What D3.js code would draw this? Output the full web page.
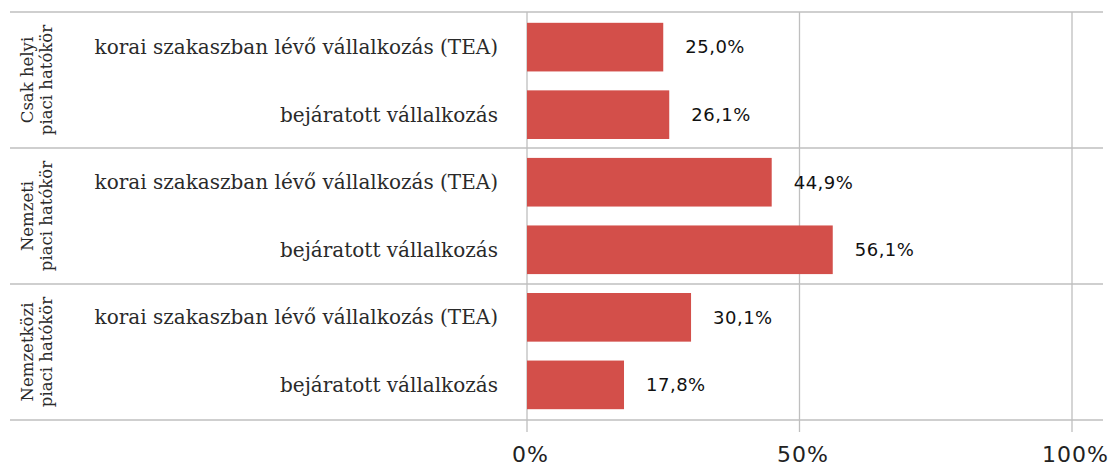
<!DOCTYPE html>
<html lang="hu">
<head>
    <meta charset="UTF-8">
    <title>Piaci hatókör</title>
    <script src="https://d3js.org/d3.v7.min.js"></script>
    <style>
        body { margin: 0; background: #fff; }
        .grid line { stroke: #bfbfbf; stroke-width: 1.3px; }
        .cat { font: 20px "DejaVu Serif", serif; fill: #2a2a2a; }
        .grp { font: 16.5px "DejaVu Serif", serif; fill: #2a2a2a; }
        .val { font: 18px "DejaVu Sans", sans-serif; fill: #111; letter-spacing: 0.5px; }
        .tick text { font: 22px "DejaVu Sans", sans-serif; fill: #222; letter-spacing: 1px; }
    </style>
</head>
<body>
<div id="chart"></div>
<script>
    const groups = [["Csak helyi", "piaci hatókör"], ["Nemzeti", "piaci hatókör"], ["Nemzetközi", "piaci hatókör"]];
    const categories = ["korai szakaszban lévő vállalkozás (TEA)", "bejáratott vállalkozás"];
    const values = [25.0, 26.1, 44.9, 56.1, 30.1, 17.8];
    const ticks = [0, 50, 100];

    const width = 1108, height = 468;
    const rows = values.map((v, i) => ({ id: i, group: Math.floor(i / 2), cat: categories[i % 2], value: v }));

    const x = d3.scaleLinear().domain([0, 100]).range([527, 1072]);
    const y = d3.scaleBand().domain(rows.map(d => d.id)).range([12, 420]).paddingInner(0.28).paddingOuter(0.16);
    const gy = d3.scaleBand().domain(d3.range(groups.length)).range([12, 420]);

    const svg = d3.select("#chart").append("svg")
        .attr("width", width)
        .attr("height", height);

    const grid = svg.append("g").attr("class", "grid");
    grid.selectAll(".h")
        .data(d3.range(groups.length + 1))
        .enter().append("line")
        .attr("x1", 10).attr("x2", 1103)
        .attr("y1", d => 12 + d * gy.step())
        .attr("y2", d => 12 + d * gy.step());
    grid.selectAll(".v")
        .data(ticks)
        .enter().append("line")
        .attr("x1", d => x(d)).attr("x2", d => x(d))
        .attr("y1", 12).attr("y2", 432);

    svg.append("g")
        .selectAll("rect")
        .data(rows)
        .enter().append("rect")
        .attr("x", x(0))
        .attr("y", d => y(d.id))
        .attr("width", d => x(d.value) - x(0))
        .attr("height", y.bandwidth())
        .attr("fill", "#d34f4a");

    svg.append("g")
        .selectAll("text")
        .data(rows)
        .enter().append("text")
        .attr("class", "val")
        .attr("x", d => x(d.value) + 22)
        .attr("y", d => y(d.id) + y.bandwidth() / 2)
        .attr("dy", "0.35em")
        .text(d => d.value.toFixed(1).replace(".", ",") + "%");

    svg.append("g")
        .selectAll("text")
        .data(rows)
        .enter().append("text")
        .attr("class", "cat")
        .attr("x", 498)
        .attr("y", d => y(d.id) + y.bandwidth() / 2)
        .attr("dy", "0.35em")
        .attr("text-anchor", "end")
        .text(d => d.cat);

    const grp = svg.append("g")
        .selectAll("text")
        .data(groups)
        .enter().append("text")
        .attr("class", "grp")
        .attr("text-anchor", "middle")
        .attr("transform", (d, i) => `translate(36,${gy(i) + gy.bandwidth() / 2}) rotate(-90)`);
    grp.selectAll("tspan")
        .data(d => d)
        .enter().append("tspan")
        .attr("x", 0)
        .attr("dy", (d, i) => i === 0 ? "-0.2em" : "1.15em")
        .text(d => d);

    const axis = svg.append("g")
        .attr("transform", "translate(0,432)")
        .call(d3.axisBottom(x).tickValues(ticks).tickSize(0).tickPadding(14).tickFormat(d => d + "%"));
    axis.select(".domain").remove();
    axis.selectAll(".tick text").attr("dx", 3);
</script>
</body>
</html>
